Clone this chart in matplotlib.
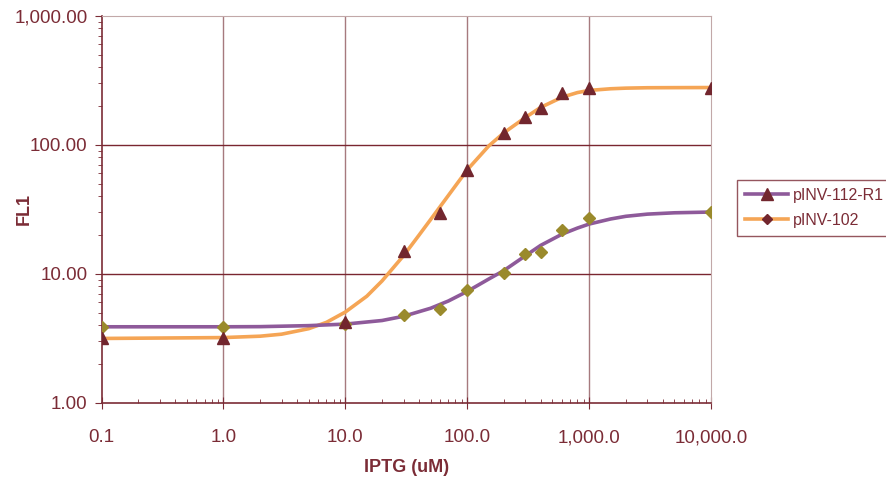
import matplotlib
matplotlib.use("Agg")
import matplotlib.pyplot as plt
from matplotlib.lines import Line2D
from matplotlib.ticker import FuncFormatter, LogLocator, NullFormatter

# ---- data ----
iptg = [0.1, 1, 10, 30, 60, 100, 200, 300, 400, 600, 1000, 10000]
fl1_tri = [3.17, 3.17, 4.25, 15.0, 29.5, 63.5, 124, 163, 194, 253, 277, 277]
fl1_dia = [3.88, 3.88, 4.1, 4.76, 5.3, 7.5, 10.2, 14.2, 14.7, 22.0, 27.0, 30.1]

fit_orange_x = [0.1, 1, 2, 3, 5, 7, 10, 15, 20, 30, 40, 50, 70, 100, 150, 200,
                300, 400, 600, 800, 1000, 1500, 2000, 3000, 5000, 10000]
fit_orange_y = [3.15, 3.2, 3.28, 3.4, 3.75, 4.2, 5.05, 6.7, 8.8, 13.8, 19.8, 26.3,
                40.5, 64, 98, 124, 163, 195, 234, 254, 264, 272, 275, 277, 277.5, 278]

fit_purple_x = [0.1, 1, 2, 5, 10, 20, 30, 50, 70, 100, 150, 200, 300, 400, 600,
                800, 1000, 1500, 2000, 3000, 5000, 10000]
fit_purple_y = [3.88, 3.88, 3.89, 3.96, 4.07, 4.34, 4.68, 5.4, 6.15, 7.3, 9.1, 10.6,
                13.8, 16.6, 20.3, 22.6, 24.3, 26.6, 27.9, 29.0, 29.7, 30.1]

series_names = ["pINV-112-R1", "pINV-102"]
x_label = "IPTG (uM)"
y_label = "FL1"

# ---- style ----
plt.rcParams['font.family'] = ['Liberation Sans', 'DejaVu Sans']
maroon = '#7B2C36'
orange = '#F5A555'
purple = '#8E5A9A'
tri_c = '#72262E'
dia_c = '#9A8A2C'

fig = plt.figure(figsize=(8.86, 4.80), dpi=100)
ax = fig.add_axes([0.1146, 0.161, 0.688, 0.806])

ax.plot(fit_orange_x, fit_orange_y, color=orange, lw=2.6, zorder=3, solid_capstyle='butt')
ax.plot(fit_purple_x, fit_purple_y, color=purple, lw=2.6, zorder=3, solid_capstyle='butt')
ax.plot(iptg, fl1_dia, linestyle='none', marker='D', ms=6, color=dia_c, mec=dia_c, zorder=4)
ax.plot(iptg, fl1_tri, linestyle='none', marker='^', ms=8.5, color=tri_c, mec=tri_c, zorder=5)

ax.set_xscale('log')
ax.set_yscale('log')
ax.set_xlim(0.1, 10000)
ax.set_ylim(1, 1000)

ax.xaxis.set_major_locator(LogLocator(base=10, numticks=10))
ax.yaxis.set_major_locator(LogLocator(base=10, numticks=10))
ax.xaxis.set_minor_locator(LogLocator(base=10, subs=range(2, 10), numticks=20))
ax.yaxis.set_minor_locator(LogLocator(base=10, subs=range(2, 10), numticks=20))
ax.xaxis.set_minor_formatter(NullFormatter())
ax.yaxis.set_minor_formatter(NullFormatter())
ax.xaxis.set_major_formatter(FuncFormatter(lambda v, p: f"{v:,.1f}"))
ax.yaxis.set_major_formatter(FuncFormatter(lambda v, p: f"{v:,.2f}"))

# grid
for xv in [1, 10, 100, 1000]:
    ax.axvline(xv, color='#A67A7E', lw=1.0, zorder=1)
for yv in [10, 100]:
    ax.axhline(yv, color='#7A2630', lw=1.0, zorder=1)

ax.spines['left'].set_color(maroon)
ax.spines['bottom'].set_color(maroon)
ax.spines['left'].set_linewidth(1.2)
ax.spines['bottom'].set_linewidth(1.2)
ax.spines['top'].set_color('#C2A8A8')
ax.spines['right'].set_color('#C2A8A8')

ax.tick_params(axis='y', which='major', direction='out', length=5, color=maroon,
               labelcolor=maroon, labelsize=13.5, pad=5)
ax.tick_params(axis='y', which='minor', direction='out', length=3, color=maroon)
ax.tick_params(axis='x', which='major', direction='inout', length=8, color=maroon,
               labelcolor=maroon, labelsize=13.5, pad=15)
ax.tick_params(axis='x', which='minor', direction='in', length=3, color=maroon)

ax.set_xlabel(x_label, color=maroon, fontsize=13, fontweight='bold')
ax.set_ylabel(y_label, color=maroon, fontsize=13, fontweight='bold')
ax.xaxis.set_label_coords(0.5, -0.145)
ax.yaxis.set_label_coords(-0.113, 0.5)

handles = [
    Line2D([], [], color=purple, lw=2.6, marker='^', ms=8, mfc=tri_c, mec=tri_c),
    Line2D([], [], color=orange, lw=2.6, marker='D', ms=5, mfc=tri_c, mec=tri_c),
]
leg = fig.legend(handles, series_names, loc='upper left',
                 bbox_to_anchor=(737 / 886, 1 - 180 / 480), frameon=True,
                 fancybox=False, shadow=False, fontsize=11.5, handlelength=2.7,
                 borderpad=0.5, labelspacing=0.6, handletextpad=0.3, borderaxespad=0)
leg.get_frame().set_edgecolor(maroon)
leg.get_frame().set_linewidth(1.0)
for t in leg.get_texts():
    t.set_color(maroon)

fig.savefig('out.png', dpi=100)
